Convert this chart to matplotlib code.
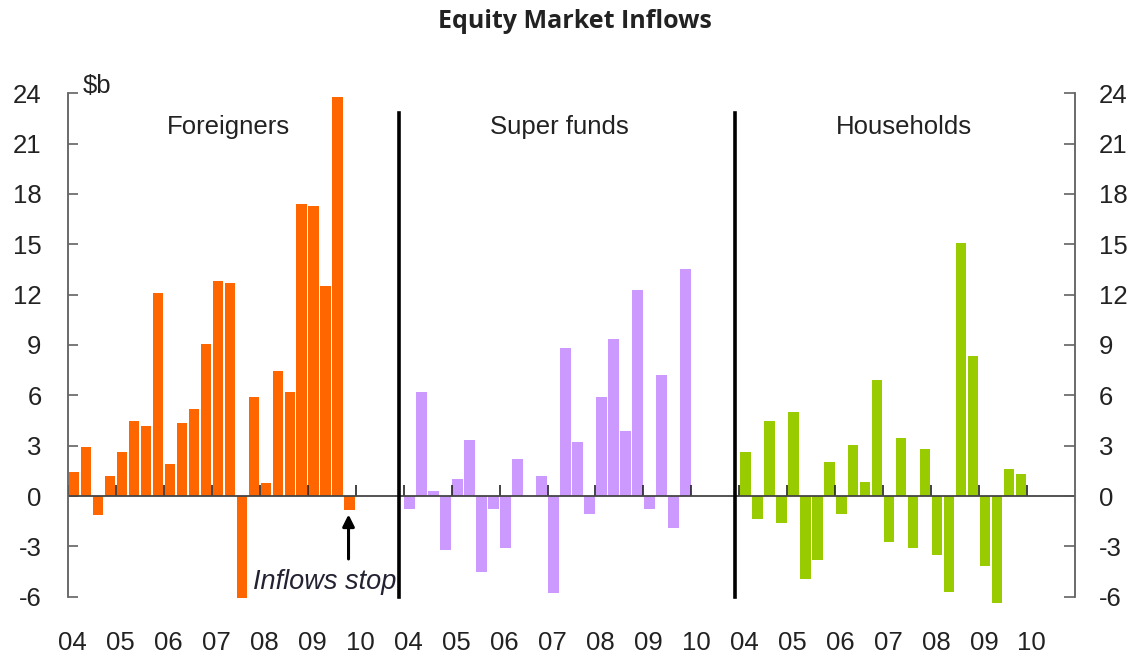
import matplotlib
matplotlib.use("Agg")
import matplotlib.pyplot as plt
import numpy as np

# ---------------- data ----------------
years = ["04", "05", "06", "07", "08", "09", "10"]
panels = ["Foreigners", "Super funds", "Households"]
foreigners = [1.45, 2.9, -1.15, 1.2, 2.6, 4.45, 4.2, 12.1, 1.9, 4.35, 5.2, 9.05,
              12.8, 12.7, -6.05, 5.9, 0.75, 7.45, 6.2, 17.4, 17.3, 12.5, 23.8, -0.85]
super_funds = [-0.75, 6.2, 0.3, -3.2, 1.0, 3.35, -4.5, -0.75, -3.1, 2.2, 0.0, 1.2,
               -5.8, 8.8, 3.2, -1.05, 5.9, 9.35, 3.9, 12.25, -0.75, 7.2, -1.9, 13.55]
households = [2.6, -1.35, 4.45, -1.6, 5.0, -4.95, -3.8, 2.0, -1.05, 3.05, 0.85, 6.9,
              -2.75, 3.45, -3.1, 2.8, -3.5, -5.7, 15.1, 8.35, -4.2, -6.4, 1.6, 1.3]
series = [foreigners, super_funds, households]
colors = ["#FF6600", "#CC99FF", "#99CC00"]
yticks = [-6, -3, 0, 3, 6, 9, 12, 15, 18, 21, 24]

QPP = 28  # quarters per panel slot (7 years)

plt.rcParams["font.family"] = ["Liberation Sans", "DejaVu Sans"]

fig = plt.figure(figsize=(11.36, 6.56), dpi=100)
ax = fig.add_axes([68 / 1136, 1 - 596.7 / 656, (1075 - 68) / 1136, (596.7 - 93.3) / 656])

ax.set_xlim(0, 3 * QPP)
ax.set_ylim(-6, 24)

for p, (vals, col) in enumerate(zip(series, colors)):
    x = p * QPP + np.arange(len(vals)) + 0.5
    ax.bar(x, vals, width=0.88, color=col, edgecolor="none", zorder=2, clip_on=False)
    # year boundary ticks on zero line
    yt = p * QPP + np.arange(len(years)) * 4
    ax.vlines(yt, 0, 0.65, color="#222222", lw=1.2, zorder=3)

# zero line
ax.axhline(0, color="#444444", lw=1.3, zorder=3)

# panel dividers
for d in [QPP - 0.35, 2 * QPP - 0.35]:
    ax.plot([d, d], [-6, 22.8], color="black", lw=2.6, zorder=4, clip_on=False)

# panel titles
label_x = [13.4, 41.0, 69.75]
for name, lx in zip(panels, label_x):
    ax.text(lx, 22.0, name, ha="center", va="center", fontsize=18.5, color="#222222")

# x tick labels
xt = [p * QPP + j * 4 + 0.4 for p in range(3) for j in range(len(years))]
ax.set_xticks(xt)
ax.set_xticklabels(years * 3, fontsize=18.5, color="#222222")
ax.tick_params(axis="x", length=0, pad=25)

# y axes
ax.set_yticks(yticks)
ax.set_yticklabels([str(v) for v in yticks], fontsize=18.5, color="#222222")
ax.tick_params(axis="y", direction="in", length=7, width=1.1, color="#555555", pad=19)

ax2 = ax.twinx()
ax2.set_ylim(ax.get_ylim())
ax2.set_yticks(yticks)
ax2.set_yticklabels([str(v) for v in yticks], fontsize=18.5, color="#222222")
ax2.tick_params(axis="y", direction="in", length=8, width=1.1, color="#555555", pad=17)

for a in (ax, ax2):
    a.spines["top"].set_visible(False)
    a.spines["bottom"].set_visible(False)
    a.spines["left"].set_color("#666666")
    a.spines["right"].set_color("#666666")
    a.spines["left"].set_linewidth(1.1)
    a.spines["right"].set_linewidth(1.1)

ax.text(1.2, 24, "$b", ha="left", va="baseline", fontsize=18.5, color="#222222")

# annotation
ax.annotate("", xy=(23.4, -1.1), xytext=(23.4, -3.75),
            arrowprops=dict(arrowstyle="-|>,head_width=0.35,head_length=0.7",
                            color="black", lw=2.2, shrinkA=0, shrinkB=0), zorder=5)
ax.text(15.45, -5.55, "Inflows stop", ha="left", va="baseline", fontsize=19.5,
        style="italic", color="#222233", zorder=3)

fig.text(575 / 1136, 1 - 21 / 656, "Equity Market Inflows", ha="center", va="center",
         fontsize=18, fontweight="bold", family=["Open Sans", "DejaVu Sans"], color="#222222")

fig.savefig("out.png", dpi=100)
